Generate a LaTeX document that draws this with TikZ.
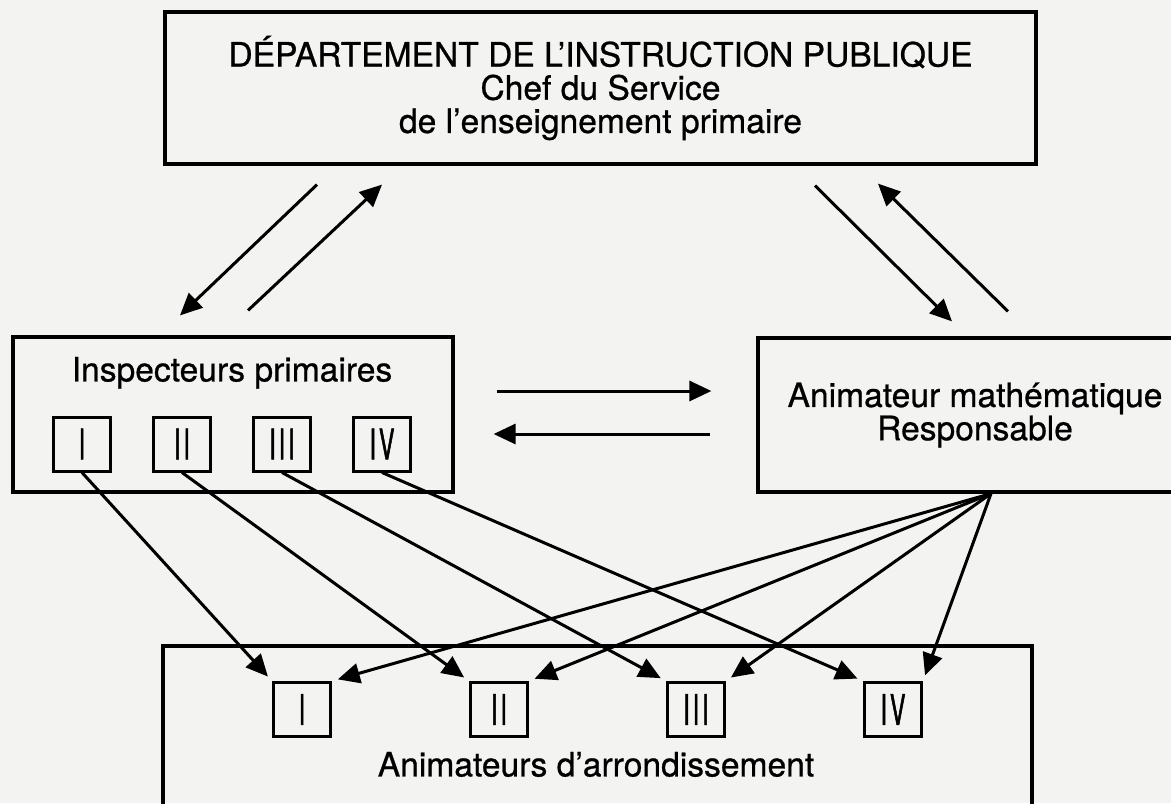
\documentclass[tikz,border=0pt]{standalone}
\usepackage{fontspec}
\setmainfont{TeX Gyre Heros}
\newfontfamily\diagfont[Ligatures=TeX,FakeBold=0.7]{TeX Gyre Heros}
\newfontfamily\numfont[FakeStretch=0.55,FakeBold=1.2]{TeX Gyre Heros}
\usetikzlibrary{arrows.meta,calc}

\tikzstyle{block} = [rectangle, draw, line width=1.6pt, text centered, align=center, font=\diagfont\fontsize{16.8pt}{16.6pt}\selectfont]
\tikzstyle{title} = [anchor=base, font=\diagfont\fontsize{16.8pt}{16.6pt}\selectfont]
\tikzstyle{numbox} = [rectangle, draw, line width=1.5pt, minimum width=28.5pt, minimum height=27pt, inner sep=0pt, font=\numfont\fontsize{21pt}{21pt}\selectfont]
\tikzstyle{link} = [line width=1.5pt, -{Triangle[length=11pt,width=10pt]}]
\definecolor{paper}{RGB}{243,243,241}

\begin{document}
\begin{tikzpicture}[x=0.5pt, y=-0.5pt, node distance=50pt]
	\clip (0,0) rectangle (1171,803);
	\fill [paper] (0,0) rectangle (1171,803);

	% Boxes
	\node [block, minimum width=435.5pt, minimum height=76pt] (dep) at (600.5,88) {DÉPARTEMENT DE L'INSTRUCTION PUBLIQUE\\Chef du Service\\de l'enseignement primaire};
	\node [block, minimum width=220pt, minimum height=77.5pt] (insp) at (233,414.5) {};
	\node [title] (insptitle) at ($(insp.north)+(-1,46)$) {Inspecteurs primaires};
	\node [block, minimum width=217pt, minimum height=77pt] (anim) at (975,415) {Animateur mathématique\\Responsable};
	\node [block, minimum width=434.5pt, minimum height=100pt] (arr) at (597.5,746) {};
	\node [title] (arrtitle) at ($(arr.north)+(-1.5,132)$) {Animateurs d'arrondissement};

	% Inspecteurs I-IV
	\node [numbox] (i1) at (82,444) {I};
	\node [numbox, right of=i1] (i2) {I\kern1.5pt I};
	\node [numbox, right of=i2] (i3) {I\kern1.5pt I\kern1.5pt I};
	\node [numbox, right of=i3] (i4) {I\kern1.5pt V};

	% Animateurs I-IV
	\node [numbox] (a1) at (302,709.5) {I};
	\node [numbox, right of=a1, node distance=98.5pt] (a2) {I\kern1.5pt I};
	\node [numbox, right of=a2, node distance=98.5pt] (a3) {I\kern1.5pt I\kern1.5pt I};
	\node [numbox, right of=a3, node distance=98.5pt] (a4) {I\kern1.5pt V};

	% Departement <-> inspecteurs, animateur
	\draw [link] ($(dep.south)+(-283.5,19)$) to ($(insp.north)+(-53,-20)$);
	\draw [link] ($(insp.north)+(15,-25)$) to ($(dep.south)+(-218.5,19)$);
	\draw [link] ($(dep.south)+(214.5,20)$) to ($(anim.north)+(-23,-15)$);
	\draw [link] ($(anim.north)+(33,-25)$) to ($(dep.south)+(277.5,18)$);

	% Inspecteurs <-> animateur
	\draw [link] ($(insp.east)+(42,-23.5)$) to ($(anim.west)+(-45,-24)$);
	\draw [link] ($(anim.west)+(-46,19)$) to ($(insp.east)+(39,19.5)$);

	% Towards the animateurs d'arrondissement
	\coordinate (fan) at ($(anim.south)+(16,0)$);
	\foreach \n in {1,...,4} {
		\draw [link, shorten >=3pt] (i\n.south) to (a\n.north west);
		\draw [link, shorten >=3pt] (fan) to (a\n.north east);
	}
\end{tikzpicture}
\end{document}
